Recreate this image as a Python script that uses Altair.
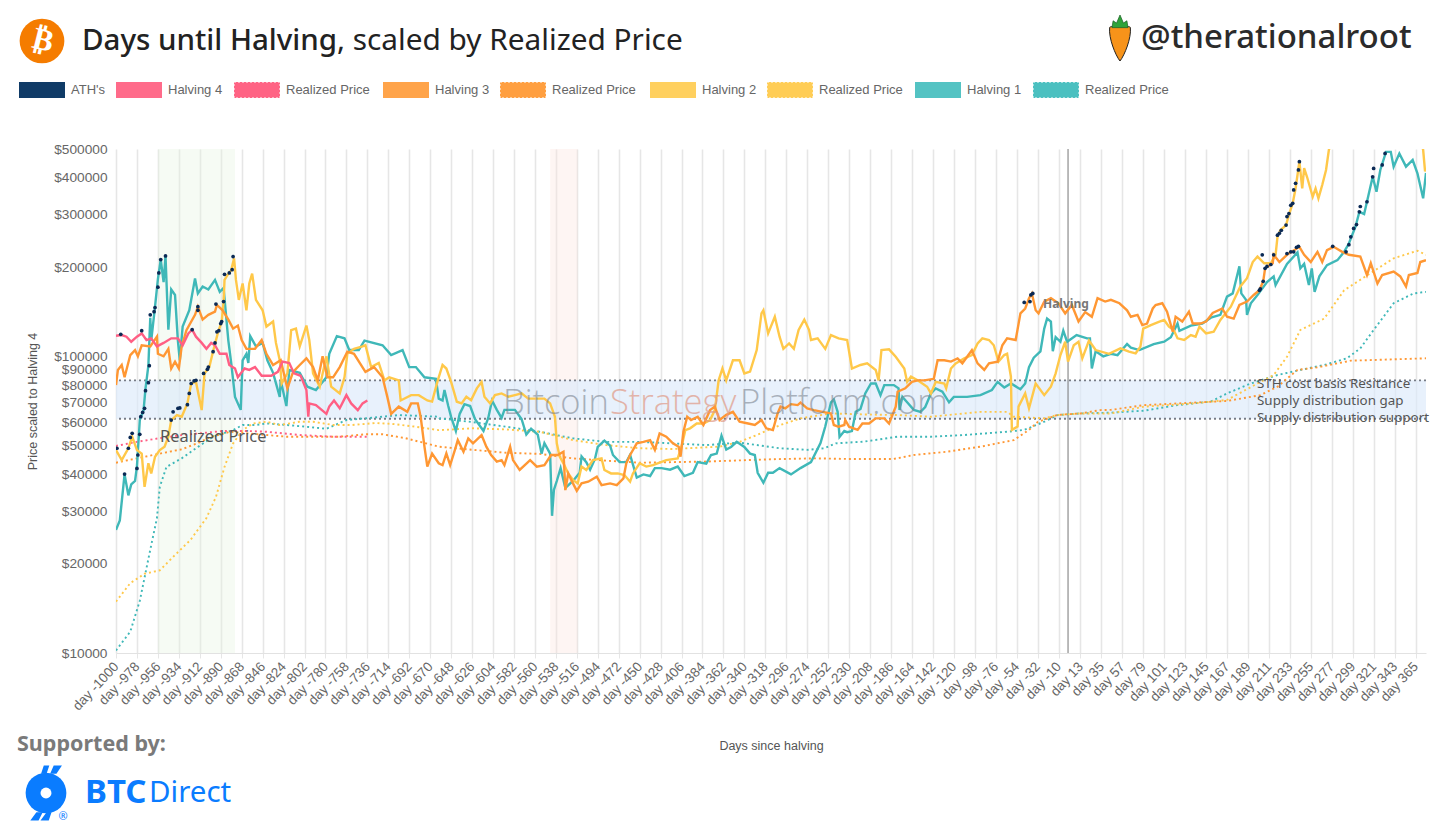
import altair as alt
import pandas as pd

TICK_DAYS = [-1000,-978,-956,-934,-912,-890,-868,-846,-824,-802,-780,-758,-736,-714,-692,-670,-648,-626,-604,-582,-560,-538,-516,-494,-472,-450,-428,-406,-384,-362,-340,-318,-296,-274,-252,-230,-208,-186,-164,-142,-120,-98,-76,-54,-32,-10,13,35,57,79,101,123,145,167,189,211,233,255,277,299,321,343,365]
PRICE_TICKS = [10000,20000,30000,40000,50000,60000,70000,80000,90000,100000,200000,300000,400000,500000]

# (day, price in $ thousands)
H1 = [(-1000,26),(-996,28),(-991,40),(-987,34),(-984,37),(-980,38),(-978,42.6),(-975,61),(-971,66),(-969,78),(-966,93),(-964,135),(-963,113),(-959,147),(-956,182),(-953,212),(-950,178),(-948,218),(-945,123),(-942,168),(-938,161),(-935,113),(-933,97),(-930,126),(-923,143),(-917,183),(-914,163),(-909,172),(-903,168),(-896,181),(-891,165),(-887,170),(-882,113),(-879,95),(-875,73),(-869,66),(-867,97),(-863,102),(-861,95),(-859,117),(-853,108),(-846,111),(-841,97),(-835,88),(-828,73),(-827,83),(-821,68),(-818,90),(-807,88),(-799,79),(-790,77),(-779,85),(-776,102),(-768,117),(-760,115),(-755,105),(-745,105),(-739,113),(-720,109),(-711,101),(-699,105),(-692,92),(-685,92),(-676,85),(-664,84),(-661,72),
      (-657,71),(-655,77),(-651,68),(-648,62.5),(-643,56),(-639,64),(-634,69),(-628,68),(-623,61.5),(-614,56),(-609,62),(-605,71),(-600,66),(-595,62),(-592,66),(-581,66),(-574,61.5),(-569,54.5),(-564,57),(-557,54.5),(-553,47),(-550,51),(-544,47),(-542,29),(-540,35.5),(-537,38),(-533,42),(-528,36),(-520,38),(-513,40.5),(-511,46),(-506,44),(-502,41.5),(-497,45),(-494,49.5),(-487,52),(-481,50),(-478,46.5),(-471,44),(-464,44),(-460,46.5),(-453,39),(-446,40),(-439,39.5),(-434,42),(-427,42),(-418,41.5),(-410,42.5),(-403,39.5),(-394,40.5),(-389,44),(-380,43.5),(-375,46.5),(-369,47),(-364,54),(-359,48.5),(-354,49.5),(-348,51.5),(-340,49.5),(-334,47),(-329,46.5),(-326,40.5),(-320,37.5),(-315,40.5),(-310,40.5),(-303,42),
      (-291,40),(-281,42),(-270,44),(-260,51),(-255,58),(-249,70),(-246,71.5),(-242,65),(-240,53.5),(-235,56),(-232,55.5),(-227,56),(-223,65),(-218,66.5),(-213,75),(-207,81),(-202,81),(-197,74),(-193,80),(-183,80),(-178,78),(-177,66),(-174,73),(-169,70),(-162,66),(-155,65),(-150,67.5),(-144,75),(-139,78),(-132,76),(-125,70),(-120,73),(-106,73),(-92,74),(-80,77),(-74,82),(-67,78.5),(-60,81),(-50,77.5),(-45,81),(-41,92),(-36,99),(-29,104),(-25,124),(-22,134),(-18,131),(-16,104),(-13,116),(-8,112),(-5,122),(-1,112),(9,118),(20,115),(23,115),(25,91),(29,104),(37,100),(45,102),(52,101),(62,110),(66,107),(75,105),(90,110),(101,112),(108,116),(115,129),(117,122),(129,127),(141,129),(150,135),(160,138),(167,159),(173,163),(180,201),(182,163),(187,155),(188,138),(192,151),(199,161),(209,178),(216,186),(218,174),(230,205),(241,224),(244,198),(248,205),(253,174),(256,198),(259,165),(264,186),(272,203),(283,211),(290,225),(295,240),(302,274),(306,307),(311,302),(314,332),(320,403),(324,359),(328,425),(334,489),(339,489),(342,436),(348,483),(355,436),(362,459),(367,414),(373,341),(376,415)]

H2 = [(-1000,48.3),(-994,44.7),(-987,49),(-983,53.6),(-978,48.3),(-973,47),(-970,36.3),(-966,43.6),(-963,40.3),(-959,45.9),(-954,48.3),(-949,49.6),(-945,53.6),(-942,61),(-936,63.4),(-931,62.6),(-925,69.4),(-921,81),(-916,82),(-910,65.9),(-907,87.6),(-902,92),(-898,104),(-893,120),(-889,131),(-887,153),(-886,181),(-882,190),(-879,195),(-876,214),(-874,181),(-871,155),(-867,176),(-863,143),(-860,176),(-857,190),(-853,155),(-846,143),(-842,126),(-835,131),(-832,111),(-828,97),(-826,81),(-820,87.6),(-816,122.6),(-811,124),(-807,108),(-800,127),(-797,113.5),(-793,87.6),(-786,79),(-779,100),(-774,79),(-765,75),(-760,85),(-757,102),(-750,106),(-741,108),(-738,109),(-732,92),(-724,95),(-718,83),(-713,85),(-703,83),(-701,71),(-690,74),(-682,74),(-673,71),(-668,70.4),(-662,83),
      (-657,93.5),(-653,91),(-648,82),(-642,70.3),(-637,69.4),(-632,73.1),(-627,71.2),(-621,78),(-616,82),(-613,73.1),(-607,69.4),(-602,74),(-595,75),(-588,73.1),(-581,74),(-574,75),(-567,72),(-558,72),(-550,72),(-544,69.4),(-539,62.6),(-537,50.9),(-534,45.9),(-530,43.6),(-525,40.3),(-520,38.3),(-515,37.3),(-511,42.5),(-506,41.4),(-499,44.7),(-490,45.3),(-487,41.4),(-480,40.3),(-473,40.3),(-466,39.8),(-460,37.8),(-457,40.3),(-450,43.6),(-443,42.5),(-436,43),(-422,44.7),(-410,45.3),(-406,49.6),(-402,56.4),(-397,57.2),(-390,59.4),(-383,59.4),(-376,61),(-371,65.9),(-367,83),(-363,91),(-359,83),(-352,97),(-345,97),(-340,87.6),(-334,88.8),(-327,105),(-322,139.6),(-320,143),(-315,119.5),(-308,136),(-303,116.5),
      (-299,106),(-293,110.6),(-288,106),(-283,122.7),(-277,133),(-272,122.7),(-270,113.5),(-263,115),(-255,106),(-249,118),(-241,115),(-232,113.5),(-227,91),(-218,93.5),(-211,94.7),(-202,90),(-199,83),(-196,105),(-188,105.6),(-181,99.7),(-172,91),(-169,82),(-165,85.4),(-158,83),(-148,79),(-144,75),(-139,82),(-130,81),(-128,78),(-123,91),(-118,94.7),(-109,98.4),(-101,101),(-95,110.6),(-90,115),(-83,113.5),(-78,109),(-73,96),(-67,101),(-64,102),(-60,85.4),(-59,56.5),(-53,58),(-52,67.7),(-45,75),(-41,66.8),(-34,81),(-25,74),(-18,79),(-13,87.6),(-8,101),(-3,112),(0,96),(6,109),(11,112),(15,98.4),(22,113),(29,105),(43,102),(55,106.4),(64,103.7),(71,102.4),(76,107.8),(79,124),(87,127.5),(96,131),(101,132.6),(106,125.9),(111,122.7),(115,115),(122,113.5),(129,118),(134,116.5),(138,125.9),(145,119.5),(153,121),(160,132.6),(171,147),(176,159),(181,172),(188,183.5),(194,208),(199,217),(206,206),(213,206),(218,220),(220,253),(223,266),(229,277),(232,300),(236,328),(239,368),(243,453),(246,368),(248,431),(251,403),(257,345),(260,368),(263,341),(267,378),(271,425),(274,497),(280,560),(300,640),(330,760),(350,700),(368,560),(373,497),(375,420),(376,430)]

H3 = [(-1000,80),(-998,90),(-994,93.5),(-991,85),(-985,101),(-980,105),(-977,100),(-973,109),(-964,108),(-957,116.5),(-956,102),(-950,100),(-945,106),(-942,91),(-938,96),(-934,91),(-931,108),(-926,122.6),(-917,138),(-914,147),(-909,133),(-903,138),(-896,141.5),(-894,149),(-888,143),(-882,133),(-877,124),(-872,127),(-868,113.5),(-863,106),(-854,106),(-847,113.5),(-842,102),(-835,93.5),(-827,97),(-820,78),(-814,88.7),(-807,93.5),(-800,98.5),(-793,92),(-788,83),(-783,100),(-778,85),(-772,85),(-765,92),(-757,103.7),(-750,102),(-744,95),(-738,88.7),(-729,92),(-720,85),(-715,73),(-711,64),(-703,67.7),(-694,65),(-690,69.4),(-683,69.4),(-680,62.6),(-676,49.6),(-673,42.5),(-668,47),(-661,43.6),
      (-657,43),(-653,47.1),(-649,43),(-644,48.4),(-641,52.2),(-635,47.7),(-630,52.9),(-625,50.9),(-616,54.3),(-611,49.6),(-606,46.5),(-600,44.2),(-595,44.7),(-592,43),(-586,49.6),(-583,44.7),(-576,41.4),(-565,44.7),(-558,42.5),(-550,43),(-543,46.5),(-536,46.5),(-530,47.7),(-528,35.4),(-525,40.3),(-520,37.3),(-516,35.2),(-511,37.3),(-504,37.8),(-495,39.3),(-490,36.8),(-481,37.3),(-474,36.8),(-467,38.8),(-464,43.6),(-460,46.5),(-453,50.9),(-446,51.5),(-439,52.2),(-434,48.4),(-429,55),(-422,53.6),(-415,50.9),(-409,49.6),(-407,45.9),(-404,55.7),(-400,62.6),(-396,61),(-389,62.6),(-383,58.7),(-376,65.9),(-371,67.7),(-366,61),(-359,63.5),(-352,65),(-345,60.2),(-336,59.4),(-329,58.7),(-322,61),(-317,57.2),(-310,56.4),(-305,64.3),
      (-302,67.7),(-297,66.8),(-291,69),(-284,68.5),(-281,69.8),(-274,66.8),(-267,65.9),(-258,65),(-249,64.2),(-246,58.7),(-241,57.9),(-235,58.7),(-234,61),(-230,57.9),(-221,56.5),(-216,59.4),(-209,59.4),(-202,61.8),(-193,61.8),(-188,59.4),(-181,67.7),(-179,76),(-171,78),(-164,82),(-158,83),(-151,83),(-141,84),(-137,97),(-130,97),(-123,96),(-116,98.4),(-111,94.7),(-106,99.7),(-101,105),(-95,94.7),(-88,90),(-83,94.7),(-74,96),(-69,109),(-64,115),(-55,113.5),(-50,139.6),(-45,145),(-41,157),(-38,163),(-34,143),(-31,139.6),(-25,153),(-18,157),(-10,151),(-3,139.6),(4,149),(11,131),(18,141),(25,136),(31,157),(39,153),(45,155),(54,151),(62,143),(66,136),(73,138),(78,127.5),(83,129),(89,145),(92,149),(99,151),(104,141.5),(110,121),(113,136),(120,131),(127,141.5),(131,129),(139,129),(145,131),(152,140),(162,145),(167,136),(174,134),(180,149),(188,153),(195,161),(201,167),(205,179),(207,198),(215,206),(216,220),(222,208),(230,220),(243,234),(248,220),(255,208),(262,225),(267,208),(272,228),(279,234),(288,225),(295,220),(307,217),(314,188),(318,206),(325,176),(330,188),(342,193),(349,186),(355,172),(358,188),(367,191),(370,208),(376,211)]

H4 = [(-1000,117.4),(-994,118),(-989,116.5),(-984,112),(-978,116.5),(-973,119.5),(-968,113.5),(-963,115),(-957,108),(-950,111),(-942,115),(-935,115),(-930,109),(-924,119.5),(-920,123),(-916,116.5),(-910,111),(-905,106),(-900,111),(-896,109),(-891,102),(-884,102),(-881,93.5),(-875,91),(-872,85),(-865,91),(-860,90),(-854,92),(-847,86),(-837,86),(-830,88.7),(-825,96),(-818,95),(-813,87.6),(-806,86),(-800,77),(-798,62.6),(-797,69.4),(-790,68.5),(-779,64),(-776,67.7),(-771,71),(-765,66.8),(-758,74),(-753,69.4),(-746,65.9),(-741,69.4),(-736,71)]

R1 = [(-1000,10.2),(-985,11.8),(-975,15),(-964,22.3),(-957,28.5),(-954,36.3),(-947,42.4),(-931,45.3),(-916,49),(-898,53.6),(-877,56.4),(-867,58.7),(-853,58.7),(-842,59.4),(-821,58.7),(-800,57.9),(-779,57),(-758,61),(-738,61.8),(-703,63.4),(-661,62.6),(-660,61.8),(-625,60),(-590,57.9),(-555,55.7),(-520,52.9),(-485,51.5),(-450,51.5),(-415,50.9),(-380,50.2),(-345,51.2),(-303,49),(-274,48.4),(-256,49),(-244,50.9),(-214,51.6),(-179,53.6),(-144,53.6),(-109,54.3),(-64,55.7),(-46,56.5),(-25,60.2),(-11,63.4),(13,64.2),(45,64.6),(80,65.6),(115,68.5),(150,70.4),(167,75),(192,81),(220,86.5),(244,90),(269,93.5),(293,98.5),(307,106.4),(321,122.7),(342,151),(363,163),(376,165)]
R2 = [(-1000,14.9),(-985,17.2),(-970,18.5),(-954,19),(-938,21.4),(-922,24),(-905,28.5),(-895,33.6),(-886,42.4),(-877,50.9),(-867,56.4),(-856,59.4),(-842,60.2),(-828,58.7),(-807,60.2),(-793,60.2),(-772,58.7),(-752,58.7),(-727,59.6),(-710,59.2),(-685,57.9),(-661,56.4),(-625,57.2),(-590,56.7),(-555,55.7),(-520,52.2),(-485,50.2),(-450,49),(-415,48.7),(-366,49.6),(-345,51.5),(-327,54.3),(-319,55.7),(-302,58.7),(-281,61.8),(-249,64.2),(-214,63.7),(-179,63.4),(-144,62.6),(-92,65),(-64,65),(-57,62.6),(-25,61.8),(-11,63.4),(13,64.2),(45,64.2),(80,67.7),(132,69.4),(167,71.3),(199,81),(216,86.5),(230,99.7),(244,122.7),(269,134),(290,167),(318,191),(342,214),(367,227),(376,220)]
R3 = [(-1000,43.8),(-978,45.3),(-954,47),(-931,48.6),(-914,51),(-900,53.6),(-880,55.7),(-842,54.3),(-821,53.6),(-793,53.6),(-765,53.6),(-738,54.6),(-720,54.6),(-696,53),(-661,49.6),(-625,48.4),(-590,47.3),(-555,46.9),(-520,45.3),(-485,44.5),(-450,43.8),(-415,44),(-380,44.2),(-310,45),(-267,45.3),(-232,45.1),(-183,45.1),(-162,46.5),(-127,47.7),(-92,49.6),(-57,52.2),(-41,56.5),(-32,60),(-11,63.5),(13,64.2),(34,65.9),(45,66),(80,68.5),(115,69.4),(167,70.7),(202,74),(220,79),(241,90),(262,91.8),(297,96.7),(342,97.7),(376,98.5)]
R4 = [(-1000,49.9),(-978,51.5),(-954,53),(-930,54.3),(-888,56),(-860,56),(-842,55.7),(-807,54.3),(-772,53.6),(-736,53.6)]

ATH_H1 = [(-991,40.1),(-978,41.9),(-977,46.5),(-975,54.6),(-974,62.6),(-972,64.7),(-970,66.8),(-969,76.6),(-966,81.5),(-965,93),(-964,138),(-960,141.5),(-959,146),(-956,171),(-955,191),(-953,212),(-948,218),(292,225),(295,238),(297,253),(300,270),(303,278),(306,307),(307,320),(314,332),(320,403),(321,430),(330,442),(333,483)]
ATH_H2 = [(-999,49),(-987,49),(-985,53.3),(-983,55),(-942,61),(-940,65),(-935,66.8),(-933,67),(-925,68.7),(-923,75),(-921,81),(-918,82.6),(-916,83),(-908,87.6),(-904,90.4),(-903,92),(-898,103.7),(-896,111),(-894,121),(-892,122),(-890,129),(-889,131),(-887,153),(-886,189),(-881,191),(-878,196),(-877,217),(204,220),(220,256),(222,260),(224,266),(229,277),(230,296),(232,303),(234,323),(236,328),(237,364),(239,383),(242,425),(243,453)]
ATH_H3 = [(-914,147),(-914,143),(-895,150),(-46,152),(-40,153),(-39,161),(-37,163),(201,167),(202,169),(205,179),(207,198),(209,201),(213,204),(216,220),(230,222),(234,225),(237,225),(240,233),(242,235),(278,235)]
ATH_H4 = [(-995,118.6),(-973,122),(-920,123)]

BAND_TOP = 83000
BAND_BOTTOM = 61600
GREEN_ZONE = (-956, -875)
RED_ZONE = (-544, -515)
HALVING_DAY = 0

LEGEND = [("ATH's","#03305f",False),("Halving 4","#ff6384",False),("Realized Price","#ff6384",True),("Halving 3","#ff9f40",False),("Realized Price","#ff9f40",True),("Halving 2","#ffcd56",False),("Realized Price","#ffcd56",True),("Halving 1","#4bc0c0",False),("Realized Price","#4bc0c0",True)]
LEGEND_X = [19,116,234,383,500,650,767,915,1033]

PINK, ORANGE, YELLOW, TEAL, NAVY = "#ff5f84", "#ff9733", "#ffc849", "#3fb8b8", "#0b2a55"
ORIGIN_X, ORIGIN_Y = 116, 149
FONT = "Noto Sans"
AXF = "Liberation Sans"

xs = alt.Scale(domain=[-1000, 376], nice=False, zero=False)
ys = alt.Scale(type="log", domain=[10000, 500000], nice=False)

def frame(pairs):
    return pd.DataFrame({"day": [p[0] for p in pairs], "price": [p[1] * 1000 for p in pairs]})

def enc(ch):
    return ch.encode(x=alt.X("day:Q", scale=xs), y=alt.Y("price:Q", scale=ys))

def solid(pairs, color):
    return enc(alt.Chart(frame(pairs)).mark_line(color=color, strokeWidth=2.4, clip=True, interpolate="linear"))

def dotted(pairs, color):
    return enc(alt.Chart(frame(pairs)).mark_line(color=color, strokeWidth=1.9, strokeDash=[2, 3], clip=True))

def dots(pairs):
    return enc(alt.Chart(frame(pairs)).mark_circle(color=NAVY, size=14, opacity=1, clip=True))

def txt(s, px, py, size, color, font=FONT, weight="normal", opacity=1.0, angle=0, align="left"):
    return alt.Chart(alt.Data(values=[{"t": s}])).mark_text(
        font=font, fontSize=size, color=color, fontWeight=weight, opacity=opacity, angle=angle,
        align=align, baseline="middle"
    ).encode(text="t:N", x=alt.value(px - ORIGIN_X), y=alt.value(py - ORIGIN_Y))

def sym(shape, px, py, size, fill, stroke=None, sw=0):
    kw = {"shape": shape, "filled": True, "fill": fill, "size": size, "opacity": 1, "strokeWidth": sw}
    if stroke:
        kw["stroke"] = stroke
    else:
        kw["strokeOpacity"] = 0
    return alt.Chart(alt.Data(values=[{"a": 1}])).mark_point(**kw).encode(
        x=alt.value(px - ORIGIN_X), y=alt.value(py - ORIGIN_Y))

def swatch(px, color, dashed):
    kw = {"fill": color, "opacity": 0.95 if not dashed else 1}
    if dashed:
        kw.update(stroke="#ffffff", strokeDash=[2, 2], strokeWidth=1)
    return alt.Chart(alt.Data(values=[{"a": 1}])).mark_rect(**kw).encode(
        x=alt.value(px - ORIGIN_X), x2=alt.value(px + 46 - ORIGIN_X),
        y=alt.value(82 - ORIGIN_Y), y2=alt.value(98 - ORIGIN_Y))

base = alt.Chart(pd.DataFrame({"day": TICK_DAYS, "price": [10000] * len(TICK_DAYS)})).mark_point(opacity=0).encode(
    x=alt.X("day:Q", scale=xs, title="Days since halving", axis=alt.Axis(
        values=TICK_DAYS, tickCount=100, labelExpr="'day ' + datum.value", labelAngle=-47, labelAlign="right", labelBaseline="middle",
        labelFont=AXF, labelFontSize=13.5, labelColor="#666666", labelOverlap=False, labelPadding=6, labelBound=False, labelFlush=False,
        grid=True, gridColor="#e6e6e6", gridWidth=1.6, domainColor="#e2e2e2", tickColor="#e6e6e6", tickSize=5,
        titleFont=AXF, titleFontSize=12.5, titleFontWeight="normal", titleColor="#555555", titleY=86)),
    y=alt.Y("price:Q", scale=ys, title="Price scaled to Halving 4", axis=alt.Axis(
        values=PRICE_TICKS, tickCount=100, labelExpr="'$' + datum.value", labelFont=AXF, labelFontSize=13.7, labelColor="#666666",
        labelOverlap=False, grid=False, domain=False, ticks=False, labelPadding=9,
        titleFont=AXF, titleFontSize=12.5, titleFontWeight="normal", titleColor="#555555", titleX=-77)))

def vband(zone, color):
    return alt.Chart(pd.DataFrame({"day": [zone[0]], "day2": [zone[1]]})).mark_rect(color=color, opacity=0.35).encode(
        x=alt.X("day:Q", scale=xs), x2="day2:Q")

band = alt.Chart(pd.DataFrame({"day": [-1000], "day2": [376], "price": [BAND_BOTTOM], "price2": [BAND_TOP]})).mark_rect(color="#dceafb", opacity=0.65).encode(
    x=alt.X("day:Q", scale=xs), x2="day2:Q", y=alt.Y("price:Q", scale=ys), y2="price2:Q")

def hline(v):
    return alt.Chart(pd.DataFrame({"price": [v]})).mark_rule(color="#777c86", strokeWidth=1.8, strokeDash=[2, 3]).encode(
        y=alt.Y("price:Q", scale=ys))

halving = alt.Chart(pd.DataFrame({"day": [HALVING_DAY]})).mark_rule(color="#777777", strokeWidth=1).encode(
    x=alt.X("day:Q", scale=xs))

layers = [base, vband(GREEN_ZONE, "#e6f3df"), vband(RED_ZONE, "#fbe3dc"), band, hline(BAND_TOP), hline(BAND_BOTTOM), halving,
          dotted(R1, TEAL), dotted(R2, YELLOW), dotted(R3, ORANGE), dotted(R4, PINK),
          solid(H1, TEAL), solid(H2, YELLOW), solid(H3, ORANGE), solid(H4, PINK),
          dots(ATH_H1), dots(ATH_H2), dots(ATH_H3), dots(ATH_H4)]

# in-plot annotations
layers += [
    txt("Bitcoin", 503, 404, 34.5, "#7d8590", font="Open Sans", weight=300, opacity=0.6),
    txt("Strategy", 610, 404, 34.5, "#e09a86", font="Open Sans", weight=300, opacity=0.7),
    txt("Platform.com", 740, 404, 34.5, "#7d8590", font="Open Sans", weight=300, opacity=0.6),
    txt("Realized Price", 160, 437, 16.4, "#555555"),
    txt("Halving", 1043, 304, 12, "#777777", weight="bold"),
    txt("STH cost basis Resitance", 1257, 384, 13.4, "#555555"),
    txt("Supply distribution gap", 1257, 401, 13.4, "#555555"),
    txt("Supply distribution support", 1257, 418, 13.4, "#555555"),
]

# header
layers += [
    sym("circle", 42, 41, 2000, "#f57c00"),
    txt("₿", 43, 41, 31, "#ffffff", font="DejaVu Sans", weight="bold", angle=14, align="center"),
    txt("Days until Halving", 82, 41, 29.5, "#222222", weight=500),
    txt(", scaled by Realized Price", 337, 41, 29.8, "#222222"),
    txt("@therationalroot", 1141, 38, 33, "#2b2b2b", weight=500),
    sym("M-0.45,-0.45C-0.5,-0.55,0.5,-0.55,0.45,-0.45C0.5,0,0.2,0.75,0,1C-0.2,0.75,-0.5,0,-0.45,-0.45Z", 1120, 38, 2116, "#f7931a", "#222222", 1),
    sym("M-0.35,-0.45L-0.3,-0.75L-0.15,-0.65L0,-1L0.15,-0.65L0.3,-0.75L0.35,-0.45Z", 1120, 38, 2116, "#2fa33a", "#1d5e25", 0.7),
]

# legend
for (name, color, dashed), lx in zip(LEGEND, LEGEND_X):
    layers.append(swatch(lx, color, dashed))
    layers.append(txt(name, lx + 52, 90, 13, "#666666", font=AXF))

# footer
layers += [
    txt("Supported by:", 17, 745, 21.5, "#7a7a7a", weight="bold"),
    sym("circle", 46, 793, 1660, "#0a7cff"),
    sym("M-0.08,-1L0.12,-1L0.02,-0.7L-0.18,-0.7ZM0.28,-1L0.58,-1L0.38,-0.7L0.15,-0.7ZM-0.35,0.7L-0.12,0.7L-0.27,1L-0.57,1ZM0.02,0.7L0.2,0.7L0.1,1L-0.2,1Z", 46, 793, 3025, "#0a7cff"),
    sym("circle", 46, 793, 120, "#ffffff"),
    txt("®", 63, 817, 11, "#0a7cff", align="center"),
    txt("BTC", 85, 793, 33, "#0a7cff", weight="bold"),
    txt("Direct", 149, 793, 29.5, "#0a7cff"),
]

chart = alt.layer(*layers).resolve_scale(x="shared", y="shared").properties(
    width=1310, height=504,
    autosize=alt.AutoSizeParams(type="none"),
    padding={"left": 108, "top": 141, "right": 22, "bottom": 175},
).configure_view(strokeWidth=0)

chart.save("out.html", embed_options={"renderer": "svg", "actions": False})
